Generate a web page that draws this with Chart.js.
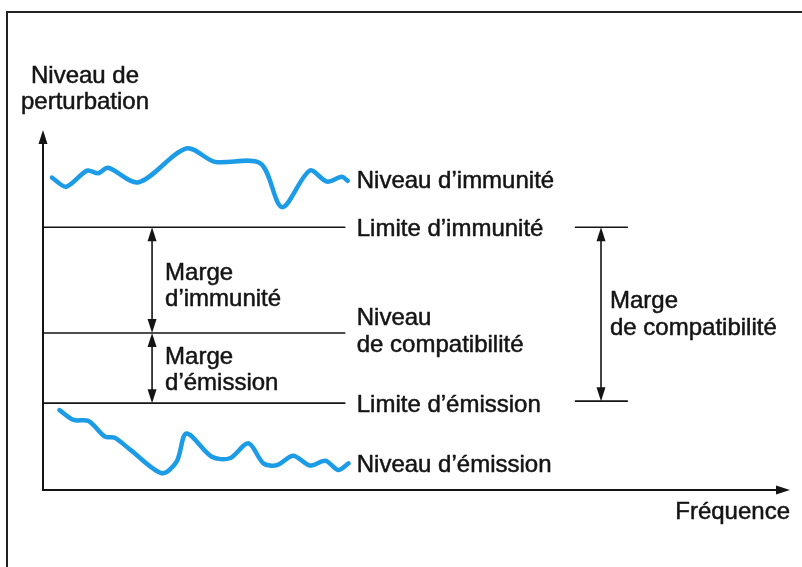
<!DOCTYPE html>
<html>
<head>
<meta charset="utf-8">
<script src="https://cdn.jsdelivr.net/npm/chart.js@4.4.1/dist/chart.umd.min.js"></script>
<style>
  html, body { margin: 0; padding: 0; background: #fff; }
  canvas { display: block; }
</style>
</head>
<body>
<canvas id="myChart" width="802" height="567"></canvas>
<script>
// courbes (fréquence / niveau, unités arbitraires 0-100)
const freqImmunite = [1.2, 3.1, 5.9, 7.4, 8.7, 12.8, 19.2, 23.0, 29.1, 32.0, 35.7, 38.0, 40.0, 40.8];
const niveauImmunite = [85.6, 83.1, 87.5, 86.8, 88.3, 84.3, 93.6, 89.9, 89.5, 77.5, 87.5, 84.5, 85.8, 84.7];
const freqEmission = [2.2, 4.1, 6.1, 8.3, 9.6, 11.7, 15.9, 17.9, 19.2, 22.6, 25.0, 27.5, 29.5, 31.3, 33.5, 35.7, 37.8, 39.5, 40.9];
const niveauEmission = [21.9, 19.2, 18.9, 14.6, 14.3, 11.0, 4.6, 7.8, 15.5, 9.1, 8.7, 12.8, 7.3, 6.8, 9.4, 6.7, 8.0, 5.5, 7.3];

// niveaux horizontaux
const limiteLabels = ["Limite d\u2019immunité", "Niveau|de compatibilité", "Limite d\u2019émission"];
const limiteValues = [72.0, 43.0, 23.8];
const limiteFin = 40.4;

// repères des marges (fréquence)
const margeFreq = 14.6;
const compatFreq = [71.2, 74.7, 78.3];
const labelFreq = 42.0;

const BLUE = "#1c9be6";
const INK = "#141414";
const FONT = "24px 'Liberation Sans', Arial, sans-serif";

const toPts = (xs, ys) => xs.map((x, i) => ({ x: x, y: ys[i] }));

const datasets = [
  { data: toPts(freqImmunite, niveauImmunite), borderColor: BLUE, borderWidth: 4.5, tension: 0.3 },
  { data: toPts(freqEmission, niveauEmission), borderColor: BLUE, borderWidth: 4.5, tension: 0.3 },
];
limiteValues.forEach((v) => {
  datasets.push({ data: [{ x: 0, y: v }, { x: limiteFin, y: v }], borderColor: INK, borderWidth: 1.6, tension: 0 });
});

function arrowHead(ctx, x, y, dir) {
  // dir: 'up' | 'down' | 'right'
  const len = 14, half = 4.5;
  ctx.beginPath();
  if (dir === "up") { ctx.moveTo(x, y); ctx.lineTo(x - half, y + len); ctx.lineTo(x + half, y + len); }
  if (dir === "down") { ctx.moveTo(x, y); ctx.lineTo(x - half, y - len); ctx.lineTo(x + half, y - len); }
  if (dir === "right") { ctx.moveTo(x, y); ctx.lineTo(x - len, y - half); ctx.lineTo(x - len, y + half); }
  ctx.closePath();
  ctx.fill();
}

function doubleArrow(ctx, x, y1, y2) {
  ctx.beginPath();
  ctx.moveTo(x, y1 + 6);
  ctx.lineTo(x, y2 - 6);
  ctx.stroke();
  arrowHead(ctx, x, y1, "up");
  arrowHead(ctx, x, y2, "down");
}

function lines(ctx, txt, x, y, gap, align) {
  const parts = txt.split("|");
  ctx.textAlign = align || "left";
  parts.forEach((p, i) => {
    const yy = y + (i - (parts.length - 1) / 2) * gap;
    ctx.strokeText(p, x, yy);
    ctx.fillText(p, x, yy);
  });
}

const schema = {
  id: "schema",
  afterDraw(chart) {
    const ctx = chart.ctx;
    const xs = chart.scales.x, ys = chart.scales.y;
    const area = chart.chartArea;
    ctx.save();
    ctx.strokeStyle = INK;
    ctx.fillStyle = INK;

    // cadre
    ctx.lineWidth = 2;
    ctx.strokeStyle = "#222";
    ctx.beginPath();
    ctx.moveTo(7, chart.height + 2);
    ctx.lineTo(7, 12);
    ctx.lineTo(chart.width + 2, 12);
    ctx.stroke();
    ctx.strokeStyle = INK;

    // axes
    const x0 = xs.getPixelForValue(0), y0 = ys.getPixelForValue(0);
    ctx.lineWidth = 2;
    ctx.beginPath();
    ctx.moveTo(x0, area.top + 10);
    ctx.lineTo(x0, y0);
    ctx.lineTo(area.right - 8, y0);
    ctx.stroke();
    arrowHead(ctx, x0, area.top + 5, "up");
    arrowHead(ctx, area.right, y0, "right");

    // marges
    ctx.lineWidth = 1.6;
    const yImm = ys.getPixelForValue(limiteValues[0]);
    const yComp = ys.getPixelForValue(limiteValues[1]);
    const yEm = ys.getPixelForValue(limiteValues[2]);
    const xm = xs.getPixelForValue(margeFreq);
    doubleArrow(ctx, xm, yImm, yComp);
    doubleArrow(ctx, xm, yComp, yEm);

    const xc1 = xs.getPixelForValue(compatFreq[0]);
    const xc = xs.getPixelForValue(compatFreq[1]);
    const xc2 = xs.getPixelForValue(compatFreq[2]);
    ctx.beginPath();
    ctx.moveTo(xc1, yImm); ctx.lineTo(xc2, yImm);
    ctx.moveTo(xc1, yEm - 2); ctx.lineTo(xc2, yEm - 2);
    ctx.stroke();
    doubleArrow(ctx, xc, yImm, yEm - 2);

    // textes
    ctx.font = FONT;
    ctx.textBaseline = "middle";
    ctx.lineWidth = 0.5;
    ctx.lineJoin = "round";
    lines(ctx, "Niveau de|perturbation", 85, 89, 26, "center");
    lines(ctx, "Fréquence", area.right, y0 + 22, 26, "right");

    const xl = xs.getPixelForValue(labelFreq);
    const nI = niveauImmunite.length - 1, nE = niveauEmission.length - 1;
    lines(ctx, "Niveau d\u2019immunité", xl, ys.getPixelForValue(niveauImmunite[nI]) + 1, 26);
    lines(ctx, "Niveau d\u2019émission", xl, ys.getPixelForValue(niveauEmission[nE]) + 2, 26);
    limiteLabels.forEach((lab, i) => {
      const y = ys.getPixelForValue(limiteValues[i]);
      lines(ctx, lab, xl, lab.indexOf("|") > 0 ? y - 1 : y + 2, 27);
    });

    lines(ctx, "Marge|d\u2019immunité", xm + 13, (yImm + yComp) / 2 + 6, 26);
    lines(ctx, "Marge|de compatibilité", xc + 9, (yImm + yEm) / 2 + 0, 27);
    lines(ctx, "Marge|d\u2019émission", xm + 13, (yComp + yEm) / 2 + 2, 26);
    ctx.restore();
  },
};

new Chart(document.getElementById("myChart"), {
  type: "line",
  data: { datasets: datasets },
  options: {
    responsive: false,
    animation: false,
    layout: { padding: { left: 43, right: 12, top: 125, bottom: 77 } },
    elements: {
      point: { radius: 0 },
      line: { borderCapStyle: "round", borderJoinStyle: "round", fill: false },
    },
    plugins: { legend: { display: false }, tooltip: { enabled: false } },
    scales: {
      x: { type: "linear", min: 0, max: 100, display: false },
      y: { type: "linear", min: 0, max: 100, display: false },
    },
  },
  plugins: [schema],
});
</script>
</body>
</html>
